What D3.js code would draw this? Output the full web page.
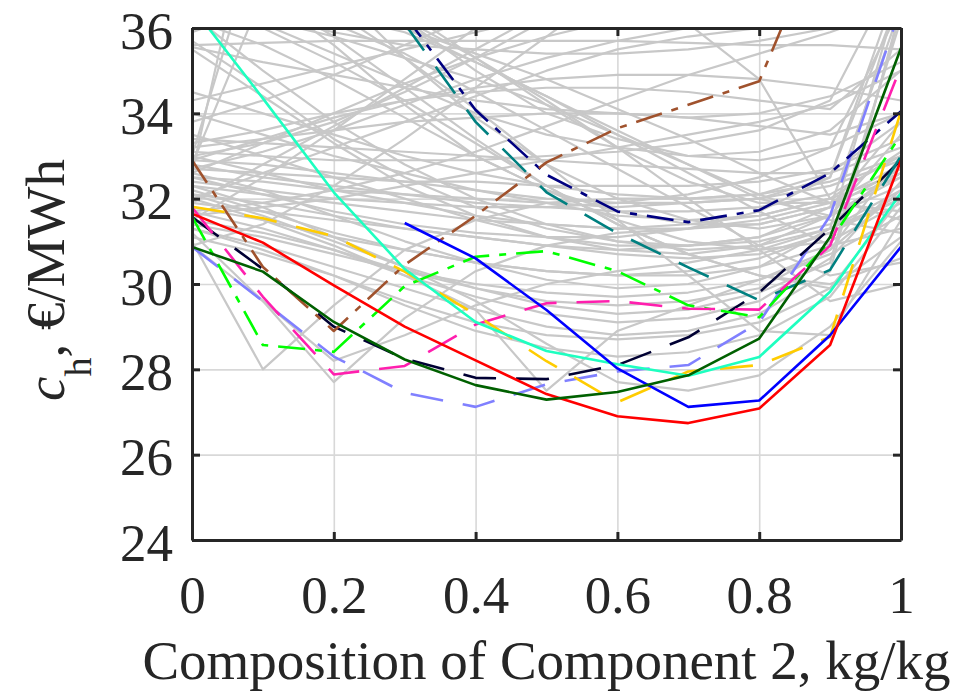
<!DOCTYPE html>
<html>
<head>
<meta charset="utf-8">
<script src="https://cdn.jsdelivr.net/npm/d3@7"></script>
<style>
	body { margin: 0; background: #fff; }
</style>
</head>
<body>
<div id="graphic"></div>
<script>
// composition steps (x) and axis ticks
const compositions = [0, 0.1, 0.2, 0.3, 0.4, 0.5, 0.6, 0.7, 0.8, 0.9, 1];
const xTicks = [0, 0.2, 0.4, 0.6, 0.8, 1];
const yTicks = [24, 26, 28, 30, 32, 34, 36];

// highlighted runs, c_h in €/MWh at each composition step (null = not computed)
const redRun = [31.65, 30.97, 29.97, 29.0, 28.21, 27.42, 26.9, 26.74, 27.08, 28.57, 32.9];
const blueRun = [null, null, null, 31.43, 30.6, 29.39, 28.02, 27.12, 27.27, 28.8, 30.87];
const darkGreenRun = [30.87, 30.29, 29.11, 28.23, 27.63, 27.29, 27.47, 27.86, 28.72, 31.1, 35.53];
const aquaRun = [36.5, 34.35, 32.15, 30.35, 29.11, 28.43, 28.12, 27.85, 28.29, 29.82, 32.13];
const goldRun = [31.81, 31.54, 31.12, 30.29, 29.28, 28.19, 27.23, 27.95, 28.1, 28.76, 34.05];
const limeRun = [31.58, 28.57, 28.41, 29.95, 30.64, 30.77, 30.3, 29.5, 29.22, 31.0, 33.5];
const pinkRun = [31.8, 29.7, 27.88, 28.08, 29.05, 29.55, 29.6, 29.42, 29.4, 30.9, 35.1];
const lilacRun = [30.87, 29.6, 28.3, 27.45, 27.12, 27.65, 27.95, 28.1, 29.1, 31.6, 36.5];
const navyRun = [null, null, null, 36.3, 34.08, 32.56, 31.7, 31.45, 31.73, 32.6, 34.05];
const tealRun = [null, null, null, 36.1, 33.8, 32.15, 31.19, 30.39, 29.62, 30.33, 33.0];
const brownRun = [32.9, 30.4, 28.9, 30.45, 31.6, 32.85, 33.65, 34.2, 34.75, 38.7, 40.0];
const midnightRun = [31.57, 30.35, 29.0, 28.25, 27.8, 27.77, 28.1, 28.75, 29.8, 31.3, 32.9];

// all the other runs, drawn in grey
const greyRuns = [
	[35.6, 35.65, 35.7, 35.7, 35.7, 35.7, 35.7, 35.65, 35.6, 35.6, 35.5],
	[35.55, 35.2, 34.9, 34.6, 34.3, 34.1, 34.0, 33.9, 34.0, 34.4, 35.2],
	[35.5, 34.4, 33.3, 32.3, 31.6, 31.1, 30.8, 30.7, 30.9, 31.6, 33.5],
	[35.7, 34.6, 33.4, 32.5, 31.8, 31.3, 31.0, 30.9, 31.1, 31.8, 33.8],
	[36.5, 36.1, 35.4, 34.7, 34.0, 33.5, 33.2, 33.0, 33.1, 33.6, 35.0],
	[32.9, 33.4, 33.9, 34.3, 34.6, 34.8, 34.9, 34.9, 34.8, 34.6, 34.3],
	[32.6, 33.3, 34.0, 34.7, 35.3, 35.8, 36.2, 36.5, 36.7, 36.8, 36.8],
	[31.9, 32.8, 33.7, 34.6, 35.5, 36.4, 37.2, 38.0, 38.8, 39.5, 40.0],
	[33.0, 32.6, 32.2, 31.9, 31.6, 31.4, 31.3, 31.3, 31.4, 31.8, 32.7],
	[32.8, 32.5, 32.3, 32.1, 31.9, 31.8, 31.7, 31.7, 31.8, 32.1, 33.0],
	[32.7, 32.6, 32.5, 32.4, 32.4, 32.3, 32.3, 32.3, 32.4, 32.7, 33.4],
	[32.5, 32.4, 32.2, 32.1, 32.0, 31.9, 31.8, 31.9, 32.0, 32.3, 32.9],
	[32.3, 32.1, 31.9, 31.7, 31.5, 31.4, 31.3, 31.4, 31.6, 32.0, 32.6],
	[32.1, 31.9, 31.6, 31.3, 31.1, 30.9, 30.8, 30.9, 31.1, 31.6, 32.3],
	[31.8, 31.5, 31.1, 30.8, 30.5, 30.3, 30.2, 30.3, 30.6, 31.2, 32.0],
	[31.4, 31.1, 30.7, 30.3, 30.0, 29.8, 29.7, 29.8, 30.1, 30.7, 31.6],
	[31.0, 28.0, 29.5, 30.8, 31.5, 31.9, 32.0, 32.0, 32.1, 32.4, 33.0],
	[31.2, 29.6, 27.7, 29.2, 30.3, 30.9, 31.2, 31.3, 31.5, 31.9, 32.5],
	[30.9, 29.6, 28.2, 28.8, 29.5, 30.0, 30.3, 30.5, 30.8, 31.3, 32.0],
	[32.0, 31.5, 30.9, 30.2, 29.4, 27.5, 28.9, 29.5, 30.1, 30.8, 32.2],
	[32.3, 31.8, 31.1, 30.4, 29.6, 28.6, 27.7, 27.5, 27.86, 29.0, 31.0],
	[33.5, 33.0, 32.5, 32.0, 31.5, 31.1, 30.9, 30.9, 31.0, 31.4, 32.8],
	[36.2, 35.6, 34.8, 33.9, 33.0, 32.2, 31.5, 31.0, 30.8, 31.0, 31.9],
	[37.0, 36.6, 36.1, 35.4, 34.5, 33.6, 32.7, 31.8, 30.9, 30.2, 30.5],
	[38.0, 37.3, 36.4, 35.3, 34.1, 32.8, 31.5, 30.2, 28.9, 28.8, 31.5],
	[36.8, 36.3, 35.9, 35.6, 35.5, 35.4, 35.4, 35.5, 35.7, 36.0, 36.6],
	[34.3, 34.7, 35.1, 35.5, 35.9, 36.3, 36.7, 37.0, 37.3, 37.5, 37.8],
	[32.0, 32.6, 33.2, 33.8, 34.4, 35.0, 35.5, 35.8, 36.0, 36.1, 36.1],
	[33.2, 33.4, 33.6, 33.8, 33.9, 34.0, 34.0, 33.9, 33.7, 33.5, 34.0],
	[31.6, 31.8, 32.0, 32.3, 32.6, 32.9, 33.2, 33.5, 33.8, 34.2, 35.0],
	[32.4, 32.2, 32.0, 31.9, 31.8, 31.8, 31.9, 32.1, 32.5, 33.2, 36.5],
	[33.4, 33.3, 33.2, 33.1, 33.0, 32.9, 32.8, 32.7, 32.6, 32.6, 33.2],
	[36.3, 35.0, 33.8, 32.8, 32.0, 31.4, 31.0, 30.8, 30.9, 31.3, 32.2],
	[36.4, 36.0, 35.2, 34.3, 33.3, 32.3, 31.4, 30.7, 30.2, 30.0, 30.6],
	[37.5, 36.8, 35.8, 34.6, 33.4, 32.3, 31.4, 30.7, 30.2, 29.9, 31.1],
	[31.5, 31.2, 30.8, 30.3, 29.9, 29.6, 29.5, 29.6, 29.9, 30.8, 33.0],
	[31.1, 30.7, 30.2, 29.6, 29.1, 28.8, 28.7, 28.8, 29.1, 29.9, 32.0],
	[31.3, 30.9, 30.4, 29.9, 29.4, 29.0, 28.8, 28.9, 29.3, 30.3, 36.5],
	[32.6, 32.2, 31.6, 31.0, 30.5, 30.1, 29.9, 30.0, 30.4, 31.3, 37.0],
	[32.2, 31.7, 31.2, 30.8, 30.5, 30.3, 30.2, 30.2, 30.4, 30.9, 36.2],
	[32.9, 32.8, 32.6, 32.4, 32.2, 32.0, 31.9, 31.9, 32.0, 32.5, 36.8],
	[33.1, 33.0, 32.9, 32.9, 32.9, 33.0, 33.1, 33.3, 33.6, 34.3, 37.5],
	[31.9, 31.7, 31.5, 31.3, 31.1, 30.9, 30.7, 30.6, 30.7, 31.2, 32.1],
	[35.9, 36.5, 36.8, 36.4, 35.3, 34.2, 33.2, 32.4, 31.9, 31.9, 32.8],
	[33.8, 34.3, 34.9, 35.6, 36.3, 37.0, 37.5, 37.8, 38.0, 38.0, 38.0],
	[32.7, 33.1, 33.6, 34.2, 34.8, 35.3, 35.7, 36.0, 36.2, 36.3, 36.4],
	[31.7, 31.9, 32.2, 32.6, 33.1, 33.7, 34.3, 34.9, 35.4, 35.9, 36.5],
	[33.0, 33.3, 33.8, 34.5, 35.3, 36.2, 37.0, 37.8, 38.5, 39.0, 39.5],
	[37.5, 37.0, 36.5, 36.0, 35.2, 34.4, 33.6, 32.8, 32.0, 31.6, 32.6],
	[36.9, 36.6, 36.3, 35.9, 35.2, 34.4, 33.5, 32.6, 31.7, 30.9, 31.3],
	[32.6, 40.0, 37.5, 36.2, 35.0, 34.0, 33.4, 33.0, 32.9, 33.2, 34.0],
	[33.0, 38.5, 36.9, 35.3, 33.9, 32.8, 32.0, 31.5, 31.3, 31.6, 32.5],
	[32.8, 36.8, 35.6, 34.2, 33.0, 32.2, 31.7, 31.4, 31.4, 31.8, 36.5],
	[31.5, 32.5, 33.6, 34.8, 36.0, 37.2, 38.0, 38.5, 38.8, 39.0, 39.0],
	[30.9, 31.4, 32.3, 33.4, 34.6, 35.8, 37.0, 38.0, 39.0, 40.0, 40.0],
	[34.5, 34.0, 33.5, 33.0, 32.6, 32.3, 32.1, 32.0, 32.1, 32.6, 33.8],
	[34.0, 33.5, 33.0, 32.6, 32.2, 31.9, 31.6, 31.5, 31.6, 32.0, 33.1],
	[36.6, 36.2, 35.8, 35.3, 34.8, 34.2, 33.5, 32.8, 32.1, 31.5, 31.2],
	[38.5, 37.8, 37.0, 36.2, 35.3, 34.3, 33.2, 32.0, 30.8, 29.6, 30.0],
	[37.8, 37.2, 36.6, 36.0, 35.4, 34.8, 34.1, 33.4, 32.6, 31.9, 31.7],
	[31.3, 30.8, 30.2, 29.5, 28.9, 28.5, 28.3, 28.4, 28.8, 29.7, 31.8],
	[31.7, 31.3, 30.8, 30.2, 29.7, 29.3, 29.1, 29.2, 29.6, 30.6, 32.4],
	[32.1, 31.6, 31.0, 30.4, 29.9, 29.5, 29.3, 29.4, 29.8, 30.5, 36.4],
	[32.5, 32.1, 31.7, 31.4, 31.2, 31.1, 31.1, 31.3, 31.7, 32.5, 37.2],
	[33.3, 33.6, 34.0, 34.3, 34.5, 34.6, 34.6, 34.5, 34.3, 34.1, 35.5],
	[39.5, 39.0, 38.5, 38.0, 37.5, 37.0, 36.6, 36.1, 34.8, 32.0, 31.5]
];

const dashed = '33,20';
const dashDot = '27,10,7,10';

// drawing order and look of the highlighted runs
const highlighted = [
	{ values: lilacRun, colour: '#8080ff', dash: dashed },
	{ values: midnightRun, colour: '#000033', dash: dashed },
	{ values: navyRun, colour: '#000080', dash: dashDot },
	{ values: tealRun, colour: '#008080', dash: dashed },
	{ values: brownRun, colour: '#a0522d', dash: dashDot },
	{ values: limeRun, colour: '#00ff00', dash: dashDot },
	{ values: pinkRun, colour: '#ff1fae', dash: dashed },
	{ values: goldRun, colour: '#ffcc00', dash: dashed },
	{ values: aquaRun, colour: '#1effc0', dash: null },
	{ values: blueRun, colour: '#0000ff', dash: null },
	{ values: redRun, colour: '#ff0000', dash: null },
	{ values: darkGreenRun, colour: '#006000', dash: null }
];

const W = 977, H = 691;
const margin = { top: 28, right: 76, bottom: 151, left: 192 };
const width = W - margin.left - margin.right;
const height = H - margin.top - margin.bottom;
const ink = '#262626';
const serif = '"Liberation Serif", "Times New Roman", Times, serif';

const svg = d3.select('#graphic').append('svg')
	.attr('width', W)
	.attr('height', H)
	.attr('font-family', serif);

const g = svg.append('g')
	.attr('transform', `translate(${margin.left},${margin.top})`);

const x = d3.scaleLinear().domain([0, 1]).range([0, width]);
const y = d3.scaleLinear().domain([24, 36]).range([height, 0]);

g.append('clipPath').attr('id', 'plot-clip')
	.append('rect').attr('width', width).attr('height', height);

// grid
g.append('g')
	.attr('transform', `translate(0,${height})`)
	.call(d3.axisBottom(x).tickValues(xTicks).tickSize(-height).tickFormat(''))
	.call(a => a.select('.domain').remove())
	.selectAll('line').attr('stroke', '#d8d8d8').attr('stroke-width', 1.6);

g.append('g')
	.call(d3.axisLeft(y).tickValues(yTicks).tickSize(-width).tickFormat(''))
	.call(a => a.select('.domain').remove())
	.selectAll('line').attr('stroke', '#d8d8d8').attr('stroke-width', 1.6);

const line = d3.line()
	.defined(d => d[1] != null)
	.x(d => x(d[0]))
	.y(d => y(d[1]));

const plot = g.append('g').attr('clip-path', 'url(#plot-clip)');

plot.append('g')
	.selectAll('path')
	.data(greyRuns)
	.join('path')
	.attr('fill', 'none')
	.attr('stroke', '#c8c8c8')
	.attr('stroke-width', 2.2)
	.attr('stroke-linejoin', 'round')
	.attr('d', d => line(d3.zip(compositions, d)));

plot.append('g')
	.selectAll('path')
	.data(highlighted)
	.join('path')
	.attr('fill', 'none')
	.attr('stroke', d => d.colour)
	.attr('stroke-width', 2.6)
	.attr('stroke-linejoin', 'round')
	.attr('stroke-dasharray', d => d.dash)
	.attr('d', d => line(d3.zip(compositions, d.values)));

// axes, ticks pointing inwards on all four sides
function styleAxis(a) {
	a.attr('font-family', serif).attr('font-size', 53);
	a.select('.domain').attr('stroke', ink).attr('stroke-width', 3);
	a.selectAll('.tick line').attr('stroke', ink).attr('stroke-width', 3);
	a.selectAll('text').attr('fill', ink).attr('font-family', serif);
}

g.append('g')
	.attr('transform', `translate(0,${height})`)
	.call(d3.axisBottom(x).tickValues(xTicks).tickSizeInner(-8).tickSizeOuter(0)
		.tickPadding(35).tickFormat(d3.format('')))
	.call(styleAxis);

g.append('g')
	.call(d3.axisTop(x).tickValues(xTicks).tickSizeInner(-8).tickSizeOuter(0).tickFormat(''))
	.call(styleAxis);

g.append('g')
	.call(d3.axisLeft(y).tickValues(yTicks).tickSizeInner(-8).tickSizeOuter(0)
		.tickPadding(19))
	.call(styleAxis)
	.selectAll('text').attr('dy', '0.38em');

g.append('g')
	.attr('transform', `translate(${width},0)`)
	.call(d3.axisRight(y).tickValues(yTicks).tickSizeInner(-8).tickSizeOuter(0).tickFormat(''))
	.call(styleAxis);

// axis labels
svg.append('text')
	.attr('x', margin.left + width / 2)
	.attr('y', 679)
	.attr('text-anchor', 'middle')
	.attr('fill', ink)
	.attr('font-size', 55)
	.text('Composition of Component 2, kg/kg');

const yLabel = svg.append('text')
	.attr('transform', `translate(64,${margin.top + height / 2 - 4}) rotate(-90)`)
	.attr('text-anchor', 'middle')
	.attr('fill', ink)
	.attr('font-size', 55);
yLabel.append('tspan').attr('font-style', 'italic').text('c');
yLabel.append('tspan').attr('dy', 27).attr('font-size', 38).text('h');
yLabel.append('tspan').attr('dy', -27).text(', €/MWh');
</script>
</body>
</html>
